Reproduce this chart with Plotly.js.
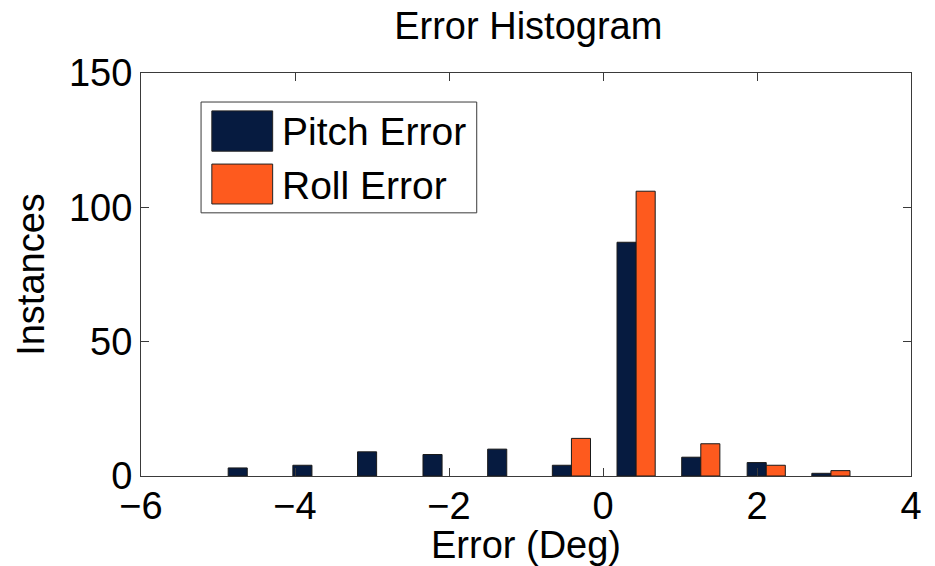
<!DOCTYPE html>
<html>
<head>
<meta charset="utf-8">
<script src="https://cdn.plot.ly/plotly-3.0.1.min.js"></script>
<style>
  html, body { margin: 0; padding: 0; background: #ffffff; }
  #chart { width: 935px; height: 566px; }
</style>
</head>
<body>
<div id="chart"></div>
<script>
// Histogram bin centres (degrees)
const binCenters = [-4.62, -3.78, -2.94, -2.09, -1.25, -0.41, 0.43, 1.27, 2.12, 2.96];
// Counts per bin
const pitchCounts = [3, 4, 9, 8, 10, 4, 87, 7, 5, 1];
const rollCounts  = [0, 0, 0, 0, 0, 14, 106, 12, 4, 2];
const seriesNames = ['Pitch Error', 'Roll Error'];
const seriesColors = ['#061b40', '#fe5a1e'];

const xTicks = [-6, -4, -2, 0, 2, 4];
const yTicks = [0, 50, 100, 150];

const FONT = 'Liberation Sans, Arial, Helvetica, sans-serif';
const AXIS_COLOR = '#3a3a3a';

// empty bins get no outline so they leave no stub on the baseline
const outlineWidths = counts => counts.map(v => (v > 0 ? 1 : 0));

const traces = [
  {
    type: 'bar', name: seriesNames[0], x: binCenters, y: pitchCounts,
    marker: { color: seriesColors[0], line: { color: '#1a1a1a', width: outlineWidths(pitchCounts) } },
    showlegend: false, hoverinfo: 'x+y'
  },
  {
    type: 'bar', name: seriesNames[1], x: binCenters, y: rollCounts,
    marker: { color: seriesColors[1], line: { color: '#1a1a1a', width: outlineWidths(rollCounts) } },
    showlegend: false, hoverinfo: 'x+y'
  }
];

const axisCommon = {
  showline: true, linecolor: AXIS_COLOR, linewidth: 1, mirror: 'allticks',
  ticks: 'inside', ticklen: 8, tickwidth: 1, tickcolor: AXIS_COLOR,
  showgrid: false, zeroline: false,
  tickfont: { family: FONT, size: 38, color: '#000' }
};

// Boxed legend: swatches and labels in paper coordinates
const legendShapes = [
  { type: 'rect', xref: 'paper', yref: 'paper', x0: 0.078, x1: 0.436, y0: 0.653, y1: 0.928,
    line: { color: AXIS_COLOR, width: 1 }, fillcolor: '#ffffff', layer: 'above' },
  { type: 'rect', xref: 'paper', yref: 'paper', x0: 0.092, x1: 0.171, y0: 0.806, y1: 0.906,
    line: { color: '#222', width: 1 }, fillcolor: seriesColors[0], layer: 'above' },
  { type: 'rect', xref: 'paper', yref: 'paper', x0: 0.092, x1: 0.171, y0: 0.675, y1: 0.774,
    line: { color: '#222', width: 1 }, fillcolor: seriesColors[1], layer: 'above' }
];
const legendLabels = [
  { xref: 'paper', yref: 'paper', x: 0.18, y: 0.856, xanchor: 'left', yanchor: 'middle',
    text: seriesNames[0], showarrow: false, font: { family: FONT, size: 39, color: '#000' } },
  { xref: 'paper', yref: 'paper', x: 0.18, y: 0.722, xanchor: 'left', yanchor: 'middle',
    text: seriesNames[1], showarrow: false, font: { family: FONT, size: 39, color: '#000' } }
];

const layout = {
  width: 935, height: 566,
  margin: { l: 141, r: 24, t: 73, b: 90 },
  paper_bgcolor: '#ffffff', plot_bgcolor: '#ffffff',
  font: { family: FONT, color: '#000' },
  title: {
    text: 'Error Histogram', font: { family: FONT, size: 38, color: '#000' },
    x: 0.565, xanchor: 'center', y: 0.955, yanchor: 'middle'
  },
  barmode: 'group', bargap: 0.41, bargroupgap: 0,
  xaxis: Object.assign({}, axisCommon, {
    range: [-6, 4], tickmode: 'array', tickvals: xTicks, ticklabelstandoff: -4,
    title: { text: 'Error (Deg)', font: { family: FONT, size: 38, color: '#000' }, standoff: 4 }
  }),
  yaxis: Object.assign({}, axisCommon, {
    range: [0, 150], tickmode: 'array', tickvals: yTicks,
    title: { text: 'Instances', font: { family: FONT, size: 38, color: '#000' }, standoff: 12 }
  }),
  shapes: legendShapes,
  annotations: legendLabels,
  showlegend: false
};

Plotly.newPlot('chart', traces, layout, { displayModeBar: false, staticPlot: true });
</script>
</body>
</html>
